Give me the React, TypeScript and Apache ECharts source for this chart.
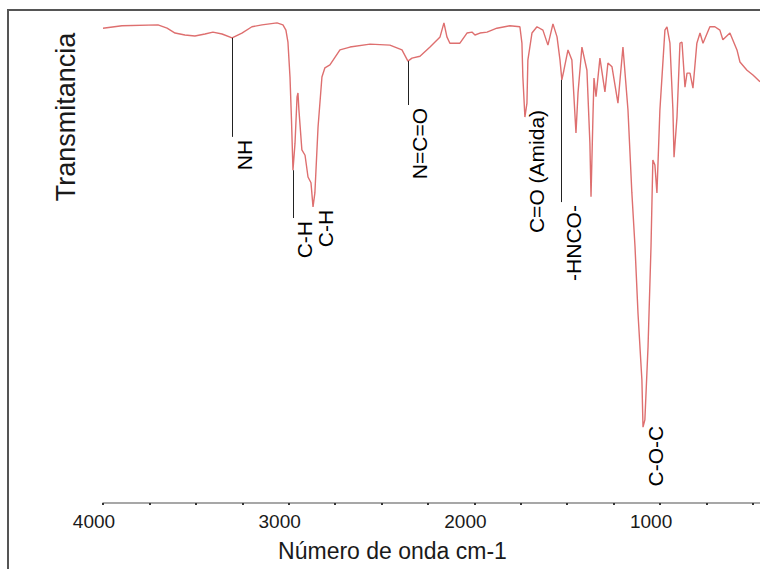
import React, { useEffect, useRef } from "react";
import * as echarts from "echarts";

// Wavenumber (cm-1) of each sampled point of the spectrum
const wavenumber = [
  4000, 3898, 3704, 3655, 3612, 3559, 3505, 3451, 3408, 3359, 3305, 3252, 3198, 3144, 3063, 3031,
  3015, 3004, 2993, 2985, 2977, 2966, 2955, 2950, 2945, 2929, 2912, 2896, 2880, 2869, 2859, 2842,
  2821, 2805, 2778, 2724, 2670, 2562, 2455, 2390, 2358, 2336, 2293, 2239, 2185, 2164, 2148, 2132,
  2078, 2040, 2013, 1997, 1970, 1932, 1879, 1809, 1755, 1744, 1739, 1728, 1717, 1712, 1690, 1663,
  1631, 1604, 1577, 1555, 1539, 1529, 1518, 1496, 1475, 1453, 1442, 1421, 1394, 1378, 1372, 1362,
  1356, 1345, 1324, 1297, 1281, 1259, 1227, 1200, 1173, 1152, 1135, 1119, 1098, 1092, 1082, 1065,
  1049, 1039, 1028, 1017, 1001, 974, 963, 947, 931, 925, 909, 893, 882, 866, 855, 839,
  823, 802, 785, 769, 732, 705, 678, 662, 624, 586, 570, 532, 500, 462,
];

// Transmittance (arbitrary %)
const transmittance = [
  98.3, 98.8, 99.0, 98.3, 97.3, 96.9, 96.7, 97.1, 97.5, 97.1, 96.3, 97.3, 98.6, 99.0, 99.4, 99.0,
  97.9, 95.4, 88.2, 79.3, 68.9, 74.5, 84.1, 84.9, 81.4, 73.1, 72.0, 67.5, 66.3, 61.3, 64.2, 77.8,
  88.2, 90.1, 90.7, 93.8, 94.4, 95.0, 94.8, 93.8, 91.5, 92.1, 92.5, 94.4, 96.5, 99.4, 96.5, 95.2,
  95.2, 97.3, 97.5, 96.9, 97.3, 97.5, 98.3, 98.8, 98.6, 95.2, 88.2, 79.9, 82.8, 91.7, 97.3, 98.6,
  97.9, 94.8, 99.2, 96.5, 91.7, 87.6, 89.6, 93.8, 91.7, 76.6, 84.9, 94.4, 89.6, 74.5, 63.4, 79.3,
  88.0, 84.1, 92.1, 85.1, 91.1, 90.3, 82.8, 94.4, 81.4, 64.2, 53.0, 39.3, 25.5, 15.7, 17.2, 32.3,
  53.0, 71.0, 70.0, 64.2, 81.4, 97.9, 98.6, 95.2, 81.4, 71.6, 79.9, 95.2, 95.4, 86.1, 89.0, 89.0,
  85.9, 95.2, 97.3, 95.2, 98.6, 98.6, 97.9, 95.9, 97.3, 93.8, 91.3, 89.6, 88.6, 87.2,
];

// Band annotations
const annotLabels = ["NH", "C-H", "C-H", "N=C=O", "C=O (Amida)", "-HNCO-", "C-O-C"];
const annotWave = [3305, 2977, 2869, 2358, 1728, 1531, 1092];
const annotLineTop: (number | null)[] = [96.3, 68.9, null, 91.5, null, 87.6, null];
const annotTextTop = [75.8, 59.0, 61.3, 82.4, 82.0, 62.3, 16.6];

// Axis ticks / labels
const tickValues = [4000, 3750, 3500, 3250, 3000, 2750, 2500, 2250, 2000, 1750, 1500, 1250, 1000, 750, 500];
const labelValues = [4000, 3000, 2000, 1000];

const FONT = '"Liberation Sans", Arial, Helvetica, sans-serif';

export default function App() {
  const ref = useRef<HTMLDivElement>(null);

  useEffect(() => {
    if (!ref.current) return;
    const chart = echarts.init(ref.current, undefined, { renderer: "svg" });

    const spectrum = wavenumber.map((w, i) => [w, transmittance[i]]);
    const lines: any[] = [];
    annotWave.forEach((w, i) => {
      const top = annotLineTop[i];
      if (top != null) {
        lines.push([{ coord: [w, top] }, { coord: [w, annotTextTop[i]] }]);
      }
    });
    const labelPoints = annotWave.map((w, i) => [w, annotTextTop[i], i]);

    chart.setOption({
      animation: false,
      backgroundColor: "#ffffff",
      grid: { left: 103, right: 0, top: 20, bottom: 66 },
      xAxis: {
        type: "value",
        inverse: true,
        min: 462,
        max: 4000,
        name: "Número de onda cm-1",
        nameLocation: "middle",
        nameGap: 36,
        nameTextStyle: {
          fontSize: 23,
          color: "#1a1a1a",
          fontFamily: FONT,
          padding: [0, 78, 0, 0],
        },
        axisLine: { show: true, lineStyle: { color: "#8a8a8a", width: 1.5 } },
        axisTick: {
          show: true,
          customValues: tickValues,
          length: 2,
          lineStyle: { color: "#333", width: 2 },
        },
        axisLabel: {
          show: true,
          customValues: labelValues,
          formatter: (v: number) => `{t|${v}}{s| }`,
          margin: 9,
          rich: {
            t: {
              fontSize: 19,
              color: "#1a1a1a",
              fontFamily: FONT,
            },
            s: {
              fontSize: 19,
              width: 18,
            },
          },
        },
        splitLine: { show: false },
      },
      yAxis: {
        type: "value",
        min: 0,
        max: 100,
        show: false,
      },
      graphic: [
        {
          type: "rect",
          silent: true,
          z: -10,
          shape: { x: 8, y: 10, width: 800, height: 600 },
          style: { fill: "none", stroke: "#555555", lineWidth: 2 },
        },
        {
          type: "text",
          x: 66,
          y: 117,
          rotation: Math.PI / 2,
          style: {
            text: "Transmitancia",
            fontSize: 27,
            fontFamily: FONT,
            fill: "#1a1a1a",
            align: "center",
            verticalAlign: "middle",
          },
        },
      ],
      series: [
        {
          type: "line",
          data: spectrum,
          showSymbol: false,
          symbol: "none",
          smooth: false,
          lineStyle: { color: "#de6f6f", width: 1.4 },
          silent: true,
          markLine: {
            silent: true,
            symbol: ["none", "none"],
            label: { show: false },
            lineStyle: { color: "#222", width: 1, type: "solid" },
            data: lines,
          },
        },
        {
          type: "custom",
          silent: true,
          data: labelPoints,
          encode: { x: 0, y: 1 },
          renderItem: (params: any, api: any) => {
            const pt = api.coord([api.value(0), api.value(1)]);
            const idx = api.value(2);
            return {
              type: "text",
              x: pt[0] + 12,
              y: pt[1] + 3,
              rotation: Math.PI / 2,
              style: {
                text: annotLabels[idx],
                align: "right",
                verticalAlign: "middle",
                fontSize: 21,
                fontFamily: FONT,
                fill: "#000",
              },
            };
          },
        },
      ],
    });

    return () => chart.dispose();
  }, []);

  return (
    <div
      ref={ref}
      style={{ position: "absolute", left: 0, top: 0, width: 760, height: 569 }}
    />
  );
}
